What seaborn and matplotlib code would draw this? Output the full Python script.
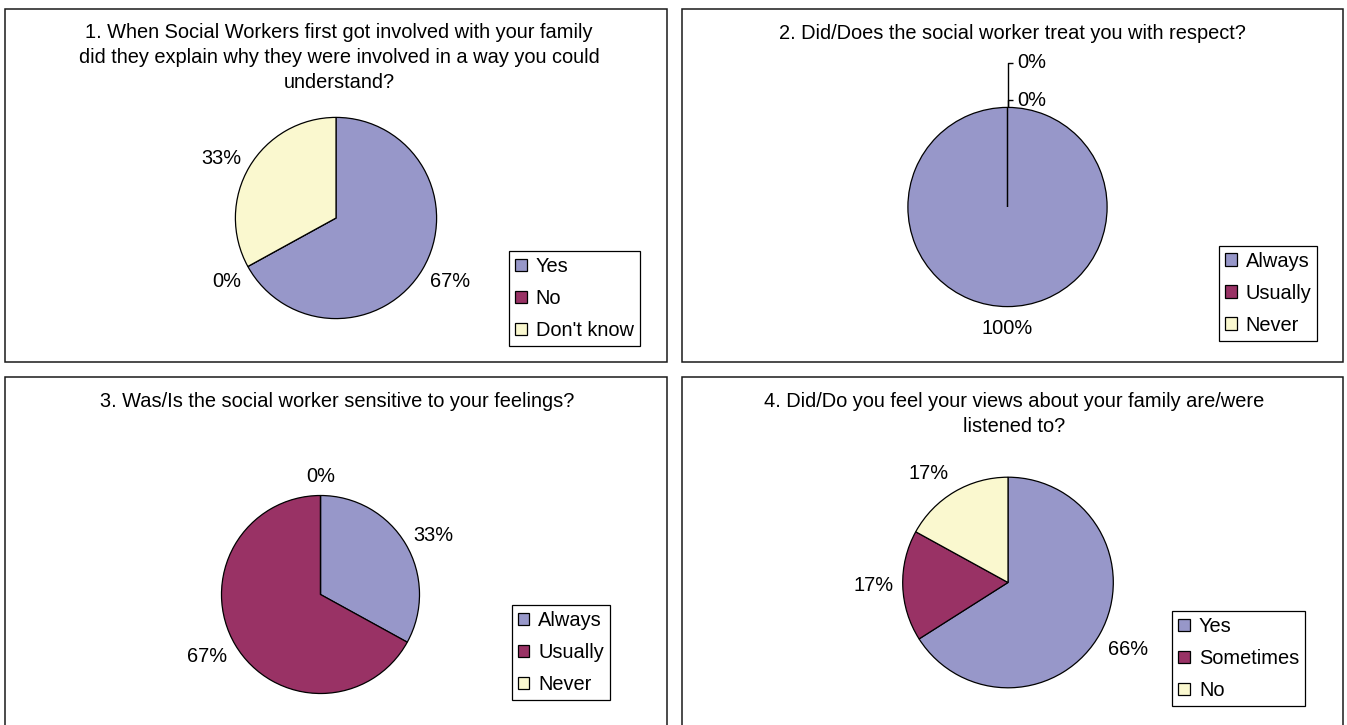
import matplotlib
matplotlib.use("Agg")
import matplotlib.pyplot as plt
from matplotlib.patches import Rectangle
import numpy as np
import seaborn as sns

# ---- survey results -------------------------------------------------------
titles = [
    "1. When Social Workers first got involved with your family\n"
    "did they explain why they were involved in a way you could\n"
    "understand?",
    "2. Did/Does the social worker treat you with respect?",
    "3. Was/Is the social worker sensitive to your feelings?",
    "4. Did/Do you feel your views about your family are/were\n"
    "listened to?",
]
answers_q1 = ["Yes", "No", "Don't know"]
answers_q2 = ["Always", "Usually", "Never"]
answers_q3 = ["Always", "Usually", "Never"]
answers_q4 = ["Yes", "Sometimes", "No"]
percent_q1 = [67, 0, 33]
percent_q2 = [100, 0, 0]
percent_q3 = [33, 67, 0]
percent_q4 = [66, 17, 17]

answers = [answers_q1, answers_q2, answers_q3, answers_q4]
percents = [percent_q1, percent_q2, percent_q3, percent_q4]

# ---- page layout (pixels, origin top-left) --------------------------------
W, H, DPI = 1347, 725, 100
FS = 14.4
panel_boxes = [(5, 9, 667, 362), (682, 9, 1343, 362),
               (5, 377, 667, 730), (682, 377, 1343, 730)]
title_xy = [(339, 57.5), (1012.7, 33.3), (337, 401.7), (1014, 414)]
pie_center = [(336, 218), (1007.5, 207), (320.5, 594.5), (1008, 582.5)]
pie_radius = [100.6, 99.6, 99.0, 105.3]
legend_anchor = [(509, 251), (1219, 245.7), (511.5, 605), (1172.4, 611)]
# label centres in units of the pie radius (None = stacked with leader)
label_xy = [
    [(1.133, -0.636), (-1.083, -0.636), (-1.143, 0.596)],
    [(0.0, -1.22), None, None],
    [(1.143, 0.594), (-1.146, -0.628), (0.005, 1.19)],
    [(1.14, -0.641), (-1.273, -0.024), (-0.753, 1.037)],
]
leader_rows = [1.074, 1.449]
leader_text_dx = 0.098
leader_tick = 0.052

sns.set_theme(style="white")
plt.rcParams["font.family"] = ["Liberation Sans", "DejaVu Sans"]
plt.rcParams["text.color"] = "black"

colors = sns.color_palette(["#9797C9", "#993265", "#FAF8CF"])

fig = plt.figure(figsize=(W / DPI, H / DPI), dpi=DPI)
fig.patch.set_facecolor("white")


def fx(x):
    return x / W


def fy(y):
    return 1 - y / H


for i in range(4):
    x0, y0, x1, y1 = panel_boxes[i]
    fig.add_artist(Rectangle((fx(x0), fy(y1)), (x1 - x0) / W, (y1 - y0) / H,
                             transform=fig.transFigure, fill=False,
                             edgecolor="#1a1a1a", linewidth=1.1))
    tx, ty = title_xy[i]
    fig.text(fx(tx), fy(ty), titles[i], ha="center", va="center",
             fontsize=FS, linespacing=1.38, multialignment="center")

    cx, cy = pie_center[i]
    r = pie_radius[i]
    span = 1.7
    S = span * r
    ax = fig.add_axes([fx(cx - S), fy(cy + S), 2 * S / W, 2 * S / H])
    wedges, _ = ax.pie(percents[i], colors=colors, startangle=90,
                       counterclock=False, radius=1,
                       wedgeprops=dict(edgecolor="black", linewidth=0.9))
    ax.set_xlim(-span, span)
    ax.set_ylim(-span, span)
    ax.set_aspect("equal")
    ax.axis("off")

    stacked = 0
    for j, v in enumerate(percents[i]):
        pos = label_xy[i][j]
        if pos is None:
            # zero-size slices share one angle: stack labels on a leader line
            ang = np.deg2rad(wedges[j].theta1)
            ex, ey = np.cos(ang), np.sin(ang)
            yrow = leader_rows[stacked]
            ax.plot([ex, ex, ex + leader_tick], [ey, yrow, yrow],
                    color="black", linewidth=1.0, clip_on=False,
                    solid_capstyle="butt")
            ax.text(ex + leader_text_dx, yrow, f"{v}%", ha="left",
                    va="center", fontsize=FS)
            stacked += 1
        else:
            ax.text(pos[0], pos[1], f"{v}%", ha="center", va="center",
                    fontsize=FS)

    lx, ly = legend_anchor[i]
    leg = ax.legend(wedges, answers[i], loc="upper left",
                    bbox_to_anchor=(fx(lx), fy(ly)),
                    bbox_transform=fig.transFigure, borderaxespad=0,
                    fontsize=FS, frameon=True, fancybox=False,
                    framealpha=1, edgecolor="black",
                    handlelength=0.58, handleheight=0.58,
                    handletextpad=0.45, labelspacing=0.645, borderpad=0.3)
    leg.get_frame().set_linewidth(0.9)

fig.savefig("out.png", dpi=DPI, facecolor="white")
